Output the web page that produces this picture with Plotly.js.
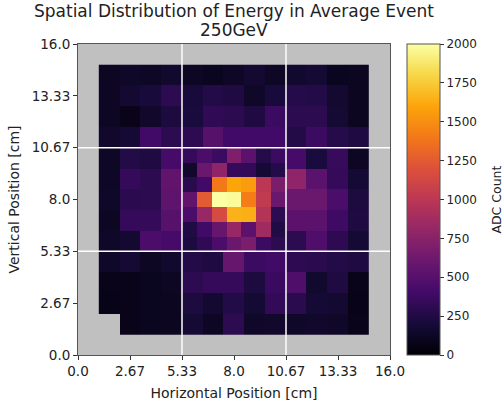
<!DOCTYPE html>
<html>
<head>
<meta charset="utf-8">
<script src="https://cdn.plot.ly/plotly-3.0.1.min.js"></script>
<style>html,body{margin:0;padding:0;background:#fff;}#chart{width:503px;height:401px;}</style>
</head>
<body>
<div id="chart"></div>
<script>
// Coarse cells (1.0667 cm), rows listed top -> bottom, columns left -> right (cell index 1..13)
// null = no data (grey background shows); central 5x5 block is replaced by fine cells
var coarseRows = [
  [120,140,130,160,120,100,130,170,130,160,180,100,110],
  [120,170,210,300,210,260,240,140,210,270,260,170,110],
  [120, 80,150,230,220,320,300,240,370,300,300,180,110],
  [150,190,390,300,310,500,400,400,400,260,370,270,240],
  [130,260,240,420,null,null,null,null,null,420,220,350,120],
  [130,340,300,560,null,null,null,null,null,780,520,340,190],
  [140,290,300,540,null,null,null,null,null,600,600,440,230],
  [120,340,340,500,null,null,null,null,null,530,520,380,240],
  [140,170,450,420,null,null,null,null,null,300,460,310,190],
  [140,180,120,160,260,240,580,370,390,310,290,260,240],
  [ 80, 80,100,120,300,340,340,230,360,460,160,240, 80],
  [ 70, 80,100,110,230,170,260,180,330,290,190,170, 70],
  [null,80,100,110,180,120,300,140,150,140,150,140, 80]
];
// Fine central cells (7x7 over 5.33..10.67 cm), rows top -> bottom
var fineRows = [
  [340, 440, 370, 700, 520, 270, 370],
  [150, 600, 780, 340, 330, 190, 270],
  [290, 400,1400,1600,1560,1000, 680],
  [560,1250,2000,1980,1420,1030, 600],
  [450, 820,1150,1650,1640, 960, 300],
  [250, 390, 580, 820, 530, 860, 250],
  [230, 320, 450, 600, 680, 370, 300]
];
var tickVals = [0, 8/3, 16/3, 8, 32/3, 40/3, 16];
var tickText = ['0.0','2.67','5.33','8.0','10.67','13.33','16.0'];
var gridVals = [16/3, 32/3];
var cbTicks = [0,250,500,750,1000,1250,1500,1750,2000];

var coarseSize = 16/15, fineSize = 16/21;
var coarseCenters = [], fineCenters = [];
for (var i = 1; i <= 13; i++) coarseCenters.push(coarseSize*(i+0.5));
for (var j = 0; j < 7; j++) fineCenters.push(16/3 + fineSize*(j+0.5));

var inferno = [
  [0.0,'#000004'],[0.1,'#160b39'],[0.2,'#420a68'],[0.3,'#6a176e'],
  [0.4,'#932667'],[0.5,'#bc3754'],[0.6,'#dd513a'],[0.7,'#f37819'],
  [0.8,'#fca50a'],[0.9,'#f6d746'],[1.0,'#fcffa4']
];

var traces = [
  {type:'heatmap', x:coarseCenters, y:coarseCenters, z:coarseRows.slice().reverse(),
   coloraxis:'coloraxis', hoverongaps:false, xgap:0, ygap:0},
  {type:'heatmap', x:fineCenters, y:fineCenters, z:fineRows.slice().reverse(),
   coloraxis:'coloraxis', xgap:0, ygap:0}
];

var shapes = [];
gridVals.forEach(function(g){
  shapes.push({type:'line', xref:'x', yref:'paper', x0:g, x1:g, y0:0, y1:1, layer:'above', line:{color:'#ffffff', width:1.5}});
  shapes.push({type:'line', xref:'paper', yref:'y', x0:0, x1:1, y0:g, y1:g, layer:'above', line:{color:'#ffffff', width:1.5}});
});

var axisCommon = {
  range:[0,16], tickmode:'array', tickvals:tickVals, ticktext:tickText,
  showgrid:false, zeroline:false, showline:true, mirror:true, linecolor:'#555', linewidth:1,
  ticks:'outside', ticklen:4, tickcolor:'#333', tickfont:{size:13.5, color:'#222'}
};

var layout = {
  width:503, height:401,
  margin:{l:78, r:113, t:44, b:46},
  paper_bgcolor:'#ffffff', plot_bgcolor:'#c0c0c0',
  font:{family:'DejaVu Sans', color:'#222'},
  title:{text:'Spatial Distribution of Energy in Average Event', font:{size:17, color:'#222'},
         x:0.5, xref:'paper', xanchor:'center', y:0.972, yref:'container', yanchor:'middle'},
  annotations:[
    {text:'250GeV', xref:'paper', yref:'paper', x:0.5, y:1.045, xanchor:'center', yanchor:'middle',
     showarrow:false, font:{size:17, color:'#222'}},
    {text:'ADC Count', xref:'paper', yref:'paper', x:1.34, y:0.5, xanchor:'center', yanchor:'middle',
     textangle:-90, showarrow:false, font:{size:12.5, color:'#222'}}
  ],
  xaxis:Object.assign({}, axisCommon, {title:{text:'Horizontal Position [cm]', font:{size:14}, standoff:10}}),
  yaxis:Object.assign({}, axisCommon, {title:{text:'Vertical Position [cm]', font:{size:14}, standoff:8}}),
  coloraxis:{cmin:0, cmax:2000, colorscale:inferno,
    colorbar:{x:1.0545, xanchor:'left', xpad:0, y:0.5, yanchor:'middle', ypad:0, len:1, lenmode:'fraction',
      thickness:33, outlinewidth:1, outlinecolor:'#555',
      tickmode:'array', tickvals:cbTicks, ticktext:cbTicks.map(String),
      ticks:'outside', ticklen:4, tickcolor:'#333', tickfont:{size:12, color:'#222'}}},
  shapes:shapes
};

Plotly.newPlot('chart', traces, layout, {displayModeBar:false, staticPlot:true});
</script>
</body>
</html>
